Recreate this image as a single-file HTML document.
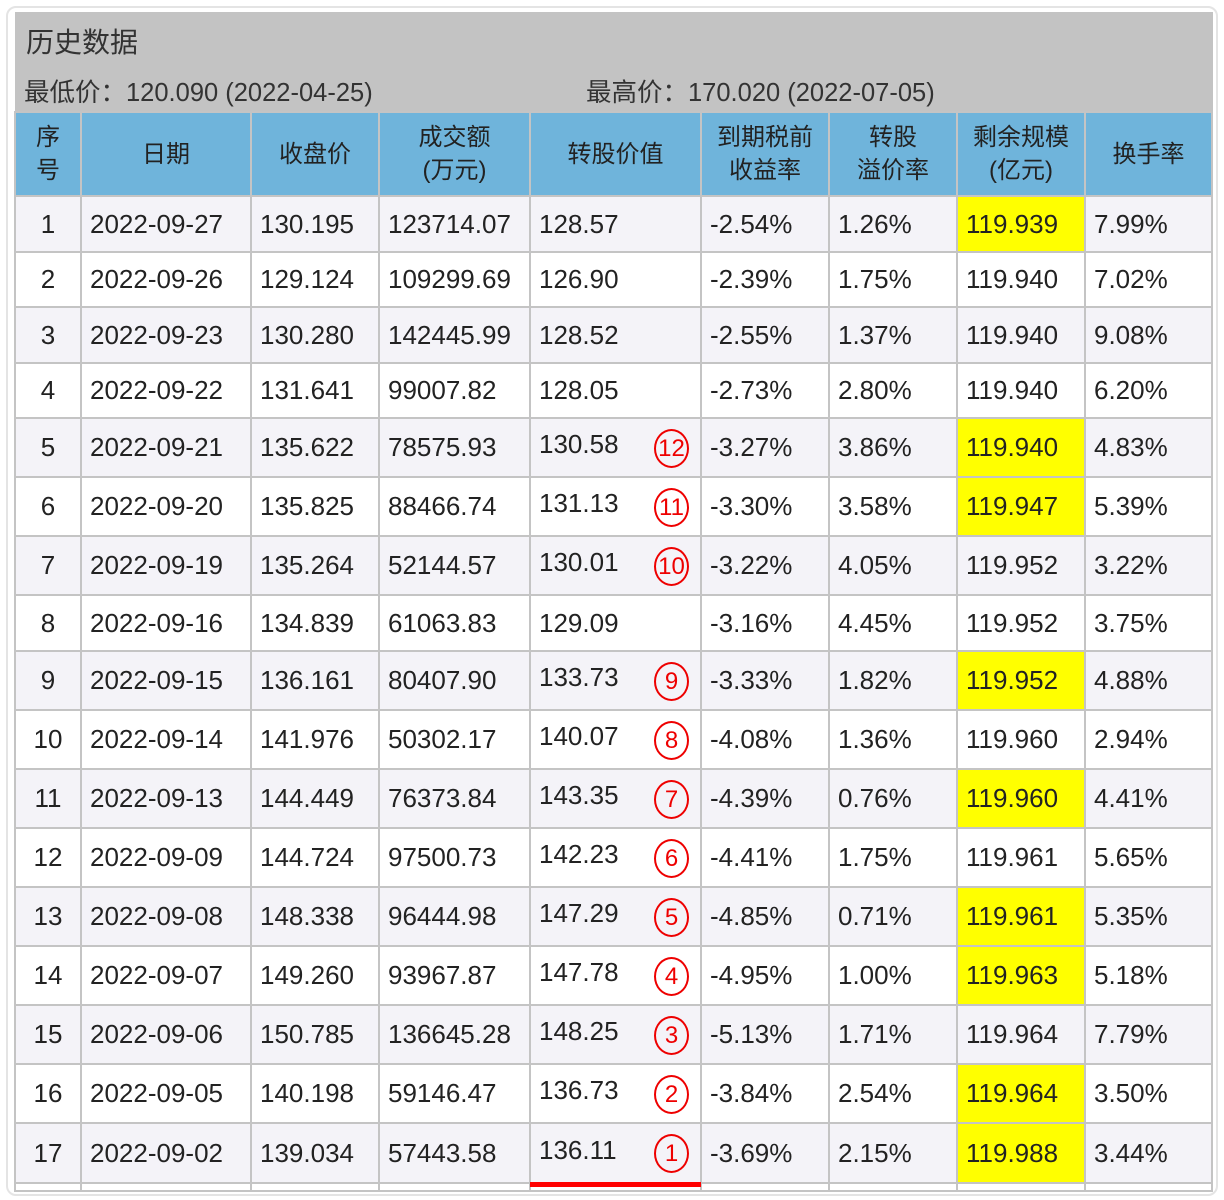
<!DOCTYPE html>
<html><head><meta charset="utf-8"><style>
body{margin:0;width:1224px;height:1200px;background:#fff;position:relative;overflow:hidden;font-family:"Liberation Sans","Noto Sans CJK SC",sans-serif;color:#222}
.frame{position:absolute;left:6px;top:6px;width:1208px;height:1186px;border:2px solid #e4e4e4;border-radius:10px}
.panel{position:absolute;left:15px;top:12px;width:1198px;height:100px;background:#c3c3c3}
.t1{position:absolute;left:26px;top:21px;font-size:28px;color:#333}
.t2{position:absolute;top:72px;font-size:25.5px;color:#333}
table{position:absolute;left:14px;top:111px;border-collapse:collapse;table-layout:fixed;font-size:26px}
td{border:2px solid #c4c4c4;padding:0 0 0 8px;white-space:nowrap;position:relative}
th{border:2px solid #c4c4c4;background:#6fb4db;font-weight:normal;font-size:24px;line-height:33px;color:#222}
tr.o td{background:#f4f3f8}
td.c{text-align:center;padding:0}
td.y{background:#ffff00!important}
.r{position:absolute;left:123px;top:50%;margin-top:-19px;width:31px;height:35px;border:2px solid #e00;border-radius:50%;color:#e00;font-size:24px;text-align:center;line-height:35px}
.v{position:relative;top:-3px}
.ul{position:absolute;left:530px;top:1182px;width:171px;height:5px;background:#f00}
</style></head><body>
<div class="frame"></div>
<div class="panel"></div>
<div class="t1">历史数据</div>
<div class="t2" style="left:24px">最低价：120.090 (2022-04-25)</div>
<div class="t2" style="left:586px">最高价：170.020 (2022-07-05)</div>
<table>
<colgroup><col style="width:66px"><col style="width:170px"><col style="width:128px"><col style="width:151px"><col style="width:171px"><col style="width:128px"><col style="width:128px"><col style="width:128px"><col style="width:127px"></colgroup>
<tr style="height:84px"><th>序<br>号</th><th>日期</th><th>收盘价</th><th>成交额<br>(万元)</th><th>转股价值</th><th>到期税前<br>收益率</th><th>转股<br>溢价率</th><th>剩余规模<br>(亿元)</th><th>换手率</th></tr>
<tr class="o" style="height:56px"><td class="c">1</td><td>2022-09-27</td><td>130.195</td><td>123714.07</td><td>128.57</td><td>-2.54%</td><td>1.26%</td><td class="y">119.939</td><td>7.99%</td></tr>
<tr style="height:55px"><td class="c">2</td><td>2022-09-26</td><td>129.124</td><td>109299.69</td><td>126.90</td><td>-2.39%</td><td>1.75%</td><td>119.940</td><td>7.02%</td></tr>
<tr class="o" style="height:56px"><td class="c">3</td><td>2022-09-23</td><td>130.280</td><td>142445.99</td><td>128.52</td><td>-2.55%</td><td>1.37%</td><td>119.940</td><td>9.08%</td></tr>
<tr style="height:55px"><td class="c">4</td><td>2022-09-22</td><td>131.641</td><td>99007.82</td><td>128.05</td><td>-2.73%</td><td>2.80%</td><td>119.940</td><td>6.20%</td></tr>
<tr class="o" style="height:59px"><td class="c">5</td><td>2022-09-21</td><td>135.622</td><td>78575.93</td><td><span class="v">130.58</span><div class="r">12</div></td><td>-3.27%</td><td>3.86%</td><td class="y">119.940</td><td>4.83%</td></tr>
<tr style="height:59px"><td class="c">6</td><td>2022-09-20</td><td>135.825</td><td>88466.74</td><td><span class="v">131.13</span><div class="r">11</div></td><td>-3.30%</td><td>3.58%</td><td class="y">119.947</td><td>5.39%</td></tr>
<tr class="o" style="height:59px"><td class="c">7</td><td>2022-09-19</td><td>135.264</td><td>52144.57</td><td><span class="v">130.01</span><div class="r">10</div></td><td>-3.22%</td><td>4.05%</td><td>119.952</td><td>3.22%</td></tr>
<tr style="height:56px"><td class="c">8</td><td>2022-09-16</td><td>134.839</td><td>61063.83</td><td>129.09</td><td>-3.16%</td><td>4.45%</td><td>119.952</td><td>3.75%</td></tr>
<tr class="o" style="height:59px"><td class="c">9</td><td>2022-09-15</td><td>136.161</td><td>80407.90</td><td><span class="v">133.73</span><div class="r">9</div></td><td>-3.33%</td><td>1.82%</td><td class="y">119.952</td><td>4.88%</td></tr>
<tr style="height:59px"><td class="c">10</td><td>2022-09-14</td><td>141.976</td><td>50302.17</td><td><span class="v">140.07</span><div class="r">8</div></td><td>-4.08%</td><td>1.36%</td><td>119.960</td><td>2.94%</td></tr>
<tr class="o" style="height:59px"><td class="c">11</td><td>2022-09-13</td><td>144.449</td><td>76373.84</td><td><span class="v">143.35</span><div class="r">7</div></td><td>-4.39%</td><td>0.76%</td><td class="y">119.960</td><td>4.41%</td></tr>
<tr style="height:59px"><td class="c">12</td><td>2022-09-09</td><td>144.724</td><td>97500.73</td><td><span class="v">142.23</span><div class="r">6</div></td><td>-4.41%</td><td>1.75%</td><td>119.961</td><td>5.65%</td></tr>
<tr class="o" style="height:59px"><td class="c">13</td><td>2022-09-08</td><td>148.338</td><td>96444.98</td><td><span class="v">147.29</span><div class="r">5</div></td><td>-4.85%</td><td>0.71%</td><td class="y">119.961</td><td>5.35%</td></tr>
<tr style="height:59px"><td class="c">14</td><td>2022-09-07</td><td>149.260</td><td>93967.87</td><td><span class="v">147.78</span><div class="r">4</div></td><td>-4.95%</td><td>1.00%</td><td class="y">119.963</td><td>5.18%</td></tr>
<tr class="o" style="height:59px"><td class="c">15</td><td>2022-09-06</td><td>150.785</td><td>136645.28</td><td><span class="v">148.25</span><div class="r">3</div></td><td>-5.13%</td><td>1.71%</td><td>119.964</td><td>7.79%</td></tr>
<tr style="height:59px"><td class="c">16</td><td>2022-09-05</td><td>140.198</td><td>59146.47</td><td><span class="v">136.73</span><div class="r">2</div></td><td>-3.84%</td><td>2.54%</td><td class="y">119.964</td><td>3.50%</td></tr>
<tr class="o" style="height:60px"><td class="c">17</td><td>2022-09-02</td><td>139.034</td><td>57443.58</td><td><span class="v">136.11</span><div class="r">1</div></td><td>-3.69%</td><td>2.15%</td><td class="y">119.988</td><td>3.44%</td></tr>
<tr style="height:8px"><td></td><td></td><td></td><td></td><td></td><td></td><td></td><td></td><td></td></tr>
</table>
<div class="ul"></div>
</body></html>
